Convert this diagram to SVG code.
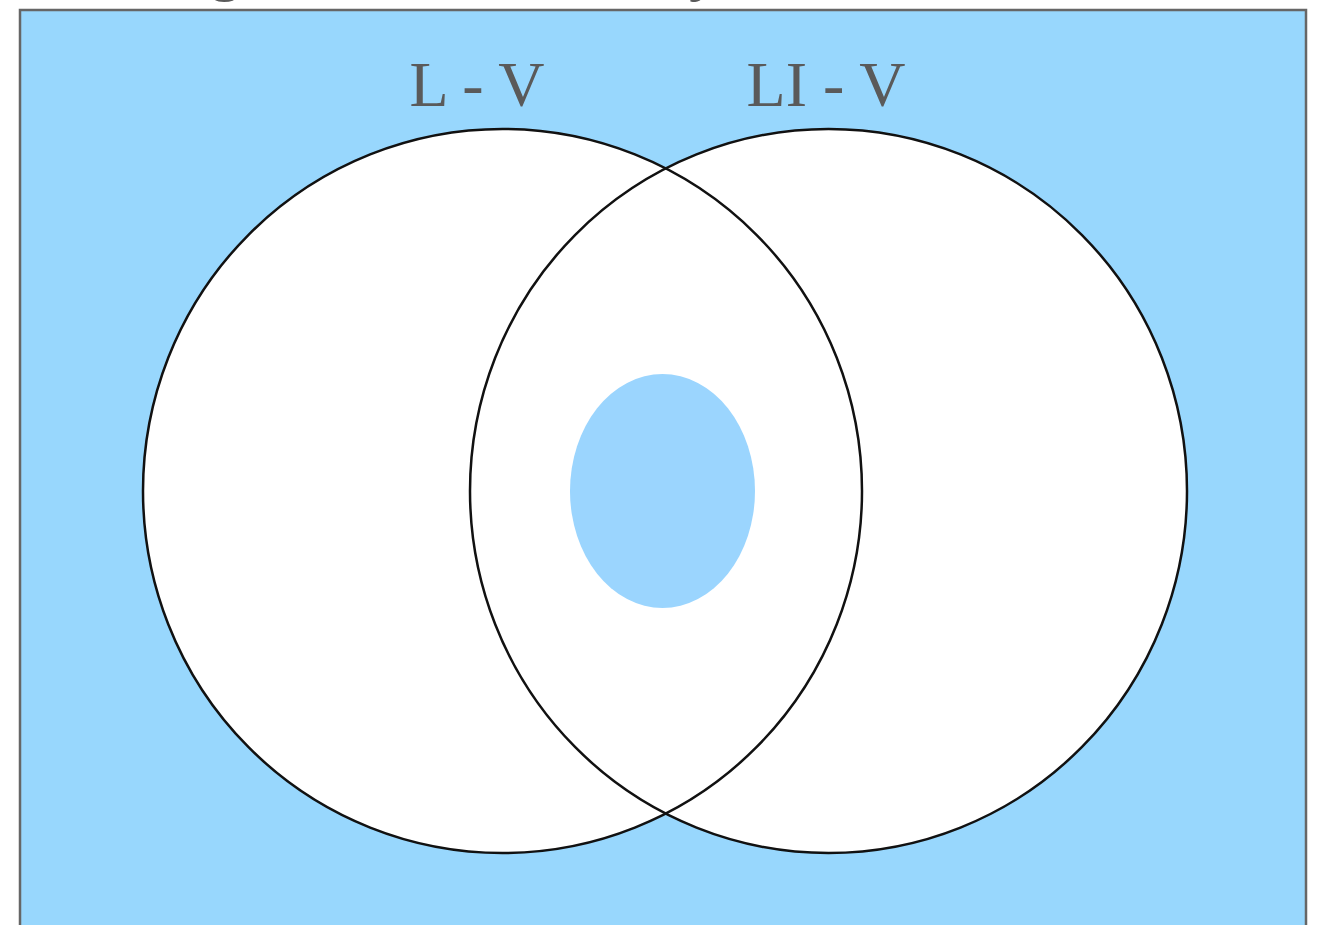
<svg xmlns="http://www.w3.org/2000/svg" width="1318" height="925" viewBox="0 0 1318 925">
<style>
.lbl{font-family:"Liberation Serif","Times New Roman",serif;font-size:64px;fill:#5a5a5a;text-anchor:middle}
.ring{fill:none;stroke:#111;stroke-width:2.5}
.disc{fill:#fff;stroke:none}
</style>
<rect width="1318" height="925" fill="#fff"/>
<text class="lbl" x="225" y="-12" font-size="60">g</text>
<text class="lbl" x="705" y="-12" font-size="60">y</text>
<rect id="universe" x="20" y="10" width="1286" height="940" fill="#98d7fd" stroke="#666" stroke-width="2.5"/>
<g id="set-L">
<ellipse class="disc" cx="502.5" cy="491" rx="359.5" ry="362"/>
</g>
<g id="set-LI">
<ellipse class="disc" cx="828.5" cy="491" rx="358.5" ry="362"/>
</g>
<g id="hole">
<ellipse cx="662.5" cy="491" rx="92.5" ry="117" fill="#9bd5fe"/>
</g>
<g id="outlines">
<ellipse class="ring" cx="502.5" cy="491" rx="359.5" ry="362"/>
<ellipse class="ring" cx="828.5" cy="491" rx="358.5" ry="362"/>
</g>
<g id="labels">
<text class="lbl" x="477" y="106">L - V</text>
<text class="lbl" x="826" y="106">LI - V</text>
</g>
</svg>
